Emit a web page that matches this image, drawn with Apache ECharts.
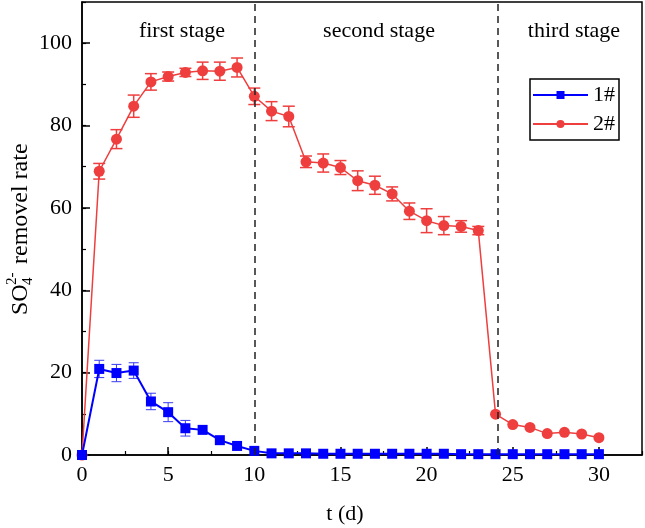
<!DOCTYPE html>
<html>
<head>
<meta charset="utf-8">
<script src="https://cdn.jsdelivr.net/npm/echarts@6/dist/echarts.min.js"></script>
<style>
html,body{margin:0;padding:0;background:#fff;}
#c{width:645px;height:528px;}
</style>
</head>
<body>
<div id="c"></div>
<script>
// ---- data ----
const days = [0,1,2,3,4,5,6,7,8,9,10,11,12,13,14,15,16,17,18,19,20,21,22,23,24,25,26,27,28,29,30];
const rate1 = [0,20.9,19.9,20.5,13.0,10.4,6.5,6.1,3.6,2.2,1.0,0.4,0.4,0.4,0.3,0.3,0.3,0.3,0.3,0.3,0.3,0.3,0.2,0.2,0.2,0.2,0.2,0.2,0.2,0.2,0.2];
const err1  = [0,2.1,2.1,1.9,2.0,2.3,1.9,0,0,0,0,0,0,0,0,0,0,0,0,0,0,0,0,0,0,0,0,0,0,0,0];
const rate2 = [0,68.9,76.7,84.7,90.6,91.9,92.9,93.3,93.2,94.1,87.1,83.5,82.2,71.2,70.9,69.8,66.6,65.5,63.4,59.2,56.9,55.7,55.5,54.5,9.9,7.4,6.7,5.2,5.5,5.1,4.2];
const err2  = [0,1.9,2.3,2.7,2.0,1.1,1.0,2.1,2.2,2.3,2.0,2.3,2.5,1.4,2.2,1.7,2.4,2.2,1.7,2.0,2.9,2.2,1.4,1.0,0,0,0,0,0,0,0];
const seriesNames = ['1#','2#'];
const stageBounds = [10, 24.1];
const stageLabels = ['first stage','second stage','third stage'];
const xTickLabels = [0,5,10,15,20,25,30];
const yTickLabels = [0,20,40,60,80,100];

const FONT = "'Liberation Serif','Times New Roman',serif";
const RED = '#ef3e3e';
const BLUE = '#0000ff';

function errRender(color, cap, w) {
  return function (params, api) {
    const x = api.value(0), y = api.value(1), e = api.value(2);
    if (!e) return null;
    const hi = api.coord([x, y + e]);
    const lo = api.coord([x, y - e]);
    const h = cap / 2;
    const st = { stroke: color, lineWidth: w };
    return {
      type: 'group',
      children: [
        { type: 'line', shape: { x1: hi[0], y1: hi[1], x2: lo[0], y2: lo[1] }, style: st },
        { type: 'line', shape: { x1: hi[0] - h, y1: hi[1], x2: hi[0] + h, y2: hi[1] }, style: st },
        { type: 'line', shape: { x1: lo[0] - h, y1: lo[1], x2: lo[0] + h, y2: lo[1] }, style: st }
      ]
    };
  };
}

const chart = echarts.init(document.getElementById('c'), null, { renderer: 'canvas' });
const axisLabelStyle = { fontFamily: FONT, fontSize: 22, color: '#000' };

chart.setOption({
  animation: false,
  backgroundColor: '#fff',
  grid: { left: 82, right: 3, top: 2, bottom: 73, show: true, borderColor: '#000', borderWidth: 1.5, containLabel: false, outerBoundsMode: 'none' },
  xAxis: [
    {
      type: 'value', position: 'bottom', min: 0, max: 32.5, interval: 5,
      axisLine: { onZero: false, lineStyle: { color: '#000', width: 1.5 } },
      axisTick: { inside: true, length: 8, lineStyle: { color: '#000', width: 1.5 } },
      axisLabel: { ...axisLabelStyle, margin: 9, showMaxLabel: false,
        formatter: v => xTickLabels.indexOf(v) >= 0 ? String(v) : '' },
      splitLine: { show: false }
    },
    {
      type: 'value', position: 'bottom', min: 0, max: 32.5, interval: 2.5,
      axisLine: { show: false, onZero: false },
      axisTick: { inside: true, length: 4, lineStyle: { color: '#000', width: 1.2 } },
      axisLabel: { show: false },
      splitLine: { show: false }
    }
  ],
  yAxis: [
    {
      type: 'value', position: 'left', min: 0, max: 110, interval: 20,
      axisLine: { show: true, onZero: false, lineStyle: { color: '#000', width: 1.5 } },
      axisTick: { show: true, inside: true, length: 8, lineStyle: { color: '#000', width: 1.5 } },
      axisLabel: { ...axisLabelStyle, margin: 10, showMaxLabel: false,
        formatter: v => yTickLabels.indexOf(v) >= 0 ? String(v) : '' },
      splitLine: { show: false }
    },
    {
      type: 'value', position: 'left', min: 0, max: 110, interval: 10,
      axisLine: { show: false, onZero: false },
      axisTick: { show: true, inside: true, length: 4, lineStyle: { color: '#000', width: 1.2 } },
      axisLabel: { show: false },
      splitLine: { show: false }
    }
  ],
  legend: {
    orient: 'vertical', left: 530, top: 79,
    itemWidth: 55, itemHeight: 10, itemGap: 7,
    padding: [5, 4, 5, 2],
    borderColor: '#000', borderWidth: 1.5,
    textStyle: { fontFamily: FONT, fontSize: 22, color: '#000' },
    data: seriesNames
  },
  series: [
    {
      name: seriesNames[1] + ' err', type: 'custom', xAxisIndex: 0, yAxisIndex: 0,
      renderItem: errRender(RED, 12, 1.5), encode: { x: 0, y: 1 },
      data: days.map((d, i) => [d, rate2[i], err2[i]]), z: 1, silent: true
    },
    {
      name: seriesNames[0] + ' err', type: 'custom', xAxisIndex: 0, yAxisIndex: 0,
      renderItem: errRender('#3a3af5', 10, 1), encode: { x: 0, y: 1 },
      data: days.map((d, i) => [d, rate1[i], err1[i]]), z: 1, silent: true
    },
    {
      name: seriesNames[1], type: 'line', xAxisIndex: 0, yAxisIndex: 0,
      data: days.map((d, i) => [d, rate2[i]]),
      symbol: 'circle', symbolSize: 11,
      lineStyle: { color: RED, width: 1.5 }, itemStyle: { color: RED },
      z: 3,
      markLine: {
        silent: true, symbol: ['none', 'none'], label: { show: false },
        lineStyle: { color: '#222', type: [7, 5], width: 1.5 },
        data: stageBounds.map(v => ({ xAxis: v }))
      }
    },
    {
      name: seriesNames[0], type: 'line', xAxisIndex: 0, yAxisIndex: 0,
      data: days.map((d, i) => [d, rate1[i]]),
      symbol: 'rect', symbolSize: 10,
      lineStyle: { color: BLUE, width: 2 }, itemStyle: { color: BLUE },
      z: 4
    }
  ],
  graphic: [
    { type: 'text', left: null, x: 182, y: 31, style: { text: stageLabels[0], font: '22px ' + FONT, fill: '#000', textAlign: 'center', textVerticalAlign: 'middle' } },
    { type: 'text', x: 379, y: 31, style: { text: stageLabels[1], font: '22px ' + FONT, fill: '#000', textAlign: 'center', textVerticalAlign: 'middle' } },
    { type: 'text', x: 574, y: 31, style: { text: stageLabels[2], font: '22px ' + FONT, fill: '#000', textAlign: 'center', textVerticalAlign: 'middle' } },
    { type: 'text', x: 345, y: 514, style: { text: 't (d)', font: '22px ' + FONT, fill: '#000', textAlign: 'center', textVerticalAlign: 'middle' } },
    {
      type: 'group', x: 21, y: 228, rotation: Math.PI / 2,
      children: [
        { type: 'text', x: -87, y: 0, style: { text: 'SO', font: '24px ' + FONT, fill: '#000', textAlign: 'left', textVerticalAlign: 'middle' } },
        { type: 'text', x: -57, y: 7, style: { text: '4', font: '15px ' + FONT, fill: '#000', textAlign: 'left', textVerticalAlign: 'middle' } },
        { type: 'text', x: -57, y: -9, style: { text: '2-', font: '15px ' + FONT, fill: '#000', textAlign: 'left', textVerticalAlign: 'middle' } },
        { type: 'text', x: -42, y: 0, style: { text: ' removel rate', font: '24px ' + FONT, fill: '#000', textAlign: 'left', textVerticalAlign: 'middle' } }
      ]
    }
  ]
});
</script>
</body>
</html>
